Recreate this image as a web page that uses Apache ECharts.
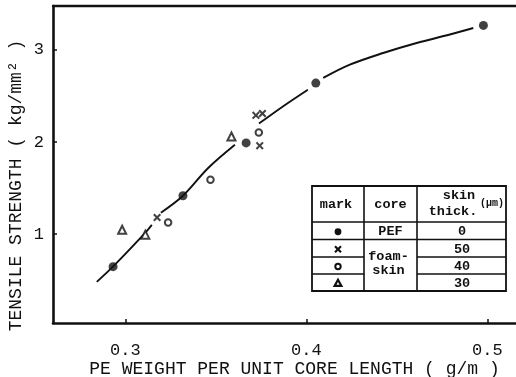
<!DOCTYPE html>
<html>
<head>
<meta charset="utf-8">
<script src="https://cdn.jsdelivr.net/npm/echarts@6/dist/echarts.min.js"></script>
<style>
  html, body { margin: 0; padding: 0; background: #fff; }
  #chart { width: 516px; height: 377px; }
</style>
</head>
<body>
<div id="chart"></div>
<script>
// PEF core (filled circles), [weight g/m, strength kg/mm2]
const pefCore = [[0.2932, 0.645], [0.3318, 1.416], [0.3667, 1.99], [0.4052, 2.64], [0.4978, 3.267]];
// foam-skin core, 50 um skin (crosses)
const skin50 = [[0.3175, 1.18], [0.3742, 1.96], [0.3721, 2.29], [0.3757, 2.31]];
// foam-skin core, 40 um skin (open circles)
const skin40 = [[0.3236, 1.126], [0.347, 1.59], [0.3737, 2.104]];
// foam-skin core, 30 um skin (triangles)
const skin30 = [[0.2982, 1.047], [0.311, 0.993], [0.3586, 2.06]];
// hand-drawn trend curve, broken where it passes the markers
const trendCurve = [
  [0.2842, 0.48], [0.2931, 0.645], [0.3108, 1.01], [0.3146, 1.10], null,
  [0.3196, 1.232], [0.3318, 1.416], [0.3456, 1.715], [0.3605, 1.97], null,
  [0.3738, 2.20], [0.3876, 2.394], [0.4008, 2.568], null,
  [0.4093, 2.696], [0.424, 2.84], [0.4424, 2.967], [0.4609, 3.076], [0.4793, 3.168], [0.4922, 3.239]
];
const xTicks = [0.3, 0.4, 0.5];
const yTicks = [1, 2, 3];
const xTitle = 'PE WEIGHT PER UNIT CORE LENGTH ( g/m )';
const yTitle = 'TENSILE STRENGTH ( kg/mm\u00B2 )';
// key table contents
const headMark = 'mark';
const headCore = 'core';
const headSkin = ['skin', 'thick.'];
const headUnit = '(\u00B5m)';
const coreNames = ['PEF', 'foam-\nskin'];
const skinThick = ['0', '50', '40', '30'];

const INK = '#111';
const FONT = '"Liberation Mono", "DejaVu Sans Mono", monospace';
const crossPath = 'path://M0,1.8 L1.8,0 L5,3.2 L8.2,0 L10,1.8 L6.8,5 L10,8.2 L8.2,10 L5,6.8 L1.8,10 L0,8.2 L3.2,5 Z';

// key table layout
const colX = [312, 364, 417, 506];
const rowY = [186, 222, 239.5, 257, 274, 291];

function buildTable() {
  const els = [];
  const line = (x1, y1, x2, y2, w) => els.push({ type: 'line', shape: { x1, y1, x2, y2 },
    style: { stroke: INK, lineWidth: w || 1.6 }, z: 10 });
  els.push({ type: 'rect', shape: { x: colX[0], y: rowY[0], width: colX[3] - colX[0], height: rowY[5] - rowY[0] },
             style: { fill: '#fff', stroke: INK, lineWidth: 1.8 }, z: 9 });
  line(colX[1], rowY[0], colX[1], rowY[5]);
  line(colX[2], rowY[0], colX[2], rowY[5]);
  line(colX[0], rowY[1], colX[3], rowY[1]);
  line(colX[0], rowY[2], colX[3], rowY[2]);
  for (let r = 3; r <= 4; r++) {
    line(colX[0], rowY[r], colX[1], rowY[r]);
    line(colX[2], rowY[r], colX[3], rowY[r]);
  }
  const txt = (text, x, y, size) => els.push({ type: 'text', x, y, z: 11,
    style: { text, fill: INK, font: 'bold ' + (size || 13.5) + 'px ' + FONT, textAlign: 'center', textVerticalAlign: 'middle', lineHeight: 14 } });
  const midX = c => (colX[c] + colX[c + 1]) / 2;
  const midY = r => (rowY[r] + rowY[r + 1]) / 2;
  txt(headMark, midX(0) - 2, 205);
  txt(headCore, midX(1), 205);
  txt(headSkin[0], 459, 196);
  txt(headSkin[1], 453, 212);
  txt(headUnit, 492, 203, 10);
  txt(coreNames[0], midX(1), midY(1) + 1);
  txt(coreNames[1], midX(1) - 2, 264);
  skinThick.forEach((t, i) => txt(t, 462, midY(i + 1) + 1));
  // marks column
  const mx = midX(0);
  els.push({ type: 'circle', shape: { cx: mx, cy: midY(1) + 1, r: 3.4 }, style: { fill: INK }, z: 11 });
  const cy2 = midY(2) + 1;
  line(mx - 3, cy2 - 3, mx + 3, cy2 + 3, 2.2);
  line(mx + 3, cy2 - 3, mx - 3, cy2 + 3, 2.2);
  els.push({ type: 'circle', shape: { cx: mx, cy: midY(3) + 1, r: 2.7 }, style: { fill: 'none', stroke: INK, lineWidth: 2 }, z: 11 });
  const cy4 = midY(4);
  els.push({ type: 'polygon', shape: { points: [[mx, cy4 - 2.8], [mx + 3.4, cy4 + 3.4], [mx - 3.4, cy4 + 3.4]] },
             style: { fill: 'none', stroke: INK, lineWidth: 2.2 }, z: 11 });
  return els;
}

const chart = echarts.init(document.getElementById('chart'), null, { renderer: 'canvas' });
chart.setOption({
  backgroundColor: '#fff',
  animation: false,
  grid: { left: 53, right: 0, top: 6, bottom: 54, containLabel: false, outerBoundsMode: 'none' },
  xAxis: [{
    type: 'value', min: 0.26, max: 0.5158,
    axisLine: { show: true, onZero: false, lineStyle: { color: INK, width: 2.6 } },
    axisTick: { show: true, inside: true, length: 4, customValues: xTicks, lineStyle: { color: INK, width: 1.5 } },
    axisLabel: { customValues: xTicks, color: INK, fontFamily: FONT, fontSize: 17, margin: 19 },
    splitLine: { show: false },
    name: xTitle, nameLocation: 'middle', nameGap: 37, nameMoveOverlap: false,
    nameTextStyle: { color: INK, fontFamily: FONT, fontSize: 18, padding: [0, 0, 0, 20] }
  }, {
    type: 'value', position: 'top', min: 0.26, max: 0.5158,
    axisLine: { show: true, onZero: false, lineStyle: { color: INK, width: 2.4 } },
    axisTick: { show: false }, axisLabel: { show: false }, splitLine: { show: false }
  }],
  yAxis: {
    type: 'value', min: 0.033, max: 3.478,
    axisLine: { show: true, onZero: false, lineStyle: { color: INK, width: 2.6 } },
    axisTick: { show: true, inside: true, length: 4, customValues: yTicks, lineStyle: { color: INK, width: 1.5 } },
    axisLabel: { customValues: yTicks, color: INK, fontFamily: FONT, fontSize: 17, margin: 9 },
    splitLine: { show: false },
    name: yTitle, nameLocation: 'middle', nameGap: 28, nameRotate: 90, nameMoveOverlap: false,
    nameTextStyle: { color: INK, fontFamily: FONT, fontSize: 18, padding: [0, 42, 0, 0] }
  },
  graphic: buildTable(),
  series: [
    {
      type: 'line', data: trendCurve, smooth: 0.35, connectNulls: false,
      showSymbol: false, symbol: 'none', silent: true,
      lineStyle: { color: INK, width: 1.9 }, z: 2
    },
    { type: 'scatter', data: pefCore, symbol: 'circle', symbolSize: 9, itemStyle: { color: INK }, z: 3 },
    { type: 'scatter', data: skin50, symbol: crossPath, symbolSize: 8, itemStyle: { color: INK }, z: 3 },
    { type: 'scatter', data: skin40, symbol: 'emptyCircle', symbolSize: 6.5,
      itemStyle: { color: INK, borderColor: INK, borderWidth: 2.2 }, z: 3 },
    { type: 'scatter', data: skin30, symbol: 'emptyTriangle', symbolSize: 8,
      itemStyle: { color: INK, borderColor: INK, borderWidth: 2.6 }, z: 3 }
  ]
});
</script>
</body>
</html>
